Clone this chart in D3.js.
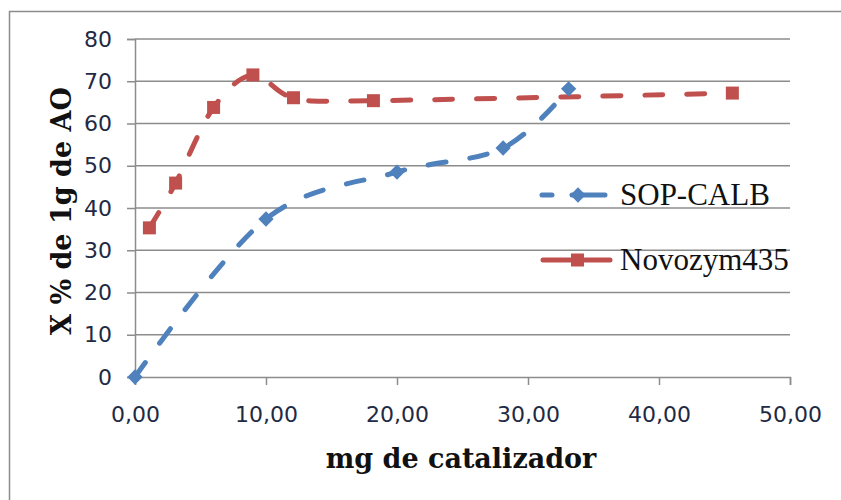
<!DOCTYPE html>
<html>
<head>
<meta charset="utf-8">
<script src="https://cdn.jsdelivr.net/npm/d3@7"></script>
<style>
  html, body { margin: 0; padding: 0; background: #fff; }
  svg { display: block; }
</style>
</head>
<body>
<svg id="chart" width="841" height="500"></svg>
<script>
// ---- data ----
const sopX = [0, 10, 20, 28.1, 33.1];
const sopY = [0, 37.4, 48.5, 54.2, 68.2];
const novoX = [1.1, 3.1, 6.0, 9.0, 12.1, 18.2, 45.6];
const novoY = [35.3, 45.9, 63.8, 71.5, 66.1, 65.4, 67.2];
const xTicks = [0, 10, 20, 30, 40, 50];
const yTicks = [0, 10, 20, 30, 40, 50, 60, 70, 80];
const seriesNames = ["SOP-CALB", "Novozym435"];
const xTitle = "mg de catalizador";
const yTitle = "X % de 1g de AO";

const blue = "#4F81BD", red = "#C0504D";
const svg = d3.select("#chart");

// frame
svg.append("rect").attr("x", 9.5).attr("y", 11.5).attr("width", 860).attr("height", 520)
  .attr("fill", "none").attr("stroke", "#8c8c8c").attr("stroke-width", 1.5);

const x = d3.scaleLinear().domain([0, 50]).range([135, 790]);
const y = d3.scaleLinear().domain([0, 80]).range([377, 39]);

// gridlines
svg.append("g").selectAll("line").data(yTicks.filter(d => d > 0)).join("line")
  .attr("x1", x(0)).attr("x2", x(50)).attr("y1", d => y(d)).attr("y2", d => y(d))
  .attr("stroke", "#8c8c8c").attr("stroke-width", 1.5);

const fmt = d => d.toFixed(2).replace(".", ",");

// y axis
const yAxis = svg.append("g").attr("transform", `translate(${x(0)},0)`)
  .call(d3.axisLeft(y).tickValues(yTicks).tickSize(8).tickPadding(15).tickFormat(d3.format("d")));
// x axis
const xAxis = svg.append("g").attr("transform", `translate(0,${y(0)})`)
  .call(d3.axisBottom(x).tickValues(xTicks).tickSize(8).tickPadding(21).tickFormat(fmt));
[xAxis, yAxis].forEach(a => {
  a.select(".domain").attr("stroke", "#8c8c8c").attr("stroke-width", 1.5);
  a.selectAll(".tick line").attr("stroke", "#8c8c8c").attr("stroke-width", 1.5);
  a.selectAll(".tick text").attr("fill", "#1f2a44")
    .style("font-family", "'DejaVu Sans', Verdana, sans-serif").style("font-size", "22px");
});

// lines
const line = d3.line().x(d => x(d[0])).y(d => y(d[1])).curve(d3.curveCatmullRom.alpha(0));
const sop = sopX.map((v, i) => [v, sopY[i]]);
const novo = novoX.map((v, i) => [v, novoY[i]]);

svg.append("path").datum(novo).attr("d", line).attr("fill", "none")
  .attr("stroke", red).attr("stroke-width", 5).attr("stroke-linecap", "round")
  .attr("stroke-dasharray", "18,24");
svg.append("path").datum(sop).attr("d", line).attr("fill", "none")
  .attr("stroke", blue).attr("stroke-width", 5).attr("stroke-linecap", "round")
  .attr("stroke-dasharray", "18,24");

const diamond = d3.symbol().type(d3.symbolDiamond2).size(150);
svg.append("g").selectAll("rect").data(novo).join("rect")
  .attr("x", d => x(d[0]) - 6.5).attr("y", d => y(d[1]) - 6.5).attr("width", 13).attr("height", 13)
  .attr("fill", red);
svg.append("g").selectAll("path").data(sop).join("path")
  .attr("transform", d => `translate(${x(d[0])},${y(d[1])})`).attr("d", diamond).attr("fill", blue);

// legend
const lg = svg.append("g");
lg.append("line").attr("x1", 542).attr("x2", 605).attr("y1", 195).attr("y2", 195)
  .attr("stroke", blue).attr("stroke-width", 5).attr("stroke-linecap", "round")
  .attr("stroke-dasharray", "10,20,40");
lg.append("path").attr("transform", "translate(578,195)").attr("d", diamond).attr("fill", blue);
lg.append("text").attr("x", 620).attr("y", 205).text(seriesNames[0]);
lg.append("line").attr("x1", 543).attr("x2", 610).attr("y1", 260).attr("y2", 260)
  .attr("stroke", red).attr("stroke-width", 5).attr("stroke-linecap", "round");
lg.append("rect").attr("x", 571).attr("y", 253.5).attr("width", 13).attr("height", 13).attr("fill", red);
lg.append("text").attr("x", 620).attr("y", 270).text(seriesNames[1]);
lg.selectAll("text").attr("fill", "#111")
  .style("font-family", "'Liberation Serif', serif").style("font-size", "31px");

// titles
svg.append("text").attr("x", 461).attr("y", 468).attr("text-anchor", "middle")
  .style("font-family", "'DejaVu Serif', serif").style("font-weight", "bold").style("font-size", "27px")
  .attr("fill", "#111").text(xTitle);
svg.append("text").attr("transform", "translate(71,211) rotate(-90)").attr("text-anchor", "middle")
  .style("font-family", "'DejaVu Serif', serif").style("font-weight", "bold").style("font-size", "27px")
  .attr("fill", "#111").text(yTitle);
</script>
</body>
</html>
